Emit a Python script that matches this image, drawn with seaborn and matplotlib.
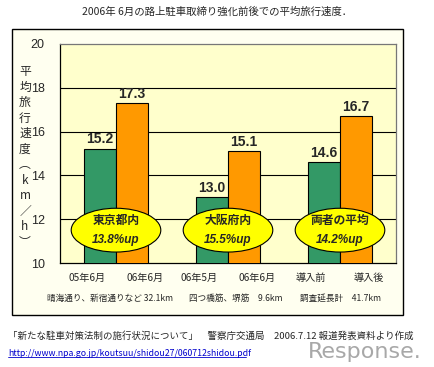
import pandas as pd
import matplotlib
matplotlib.use('Agg')
import matplotlib.pyplot as plt
from matplotlib.patches import Ellipse, Rectangle
import seaborn as sns

# data
regions = ['東京都内', '大阪府内', '両者の平均']
before = [15.2, 13.0, 14.6]
after = [17.3, 15.1, 16.7]
increase = ['13.8%up', '15.5%up', '14.2%up']
before_labels = ['05年6月', '06年5月', '導入前']
after_labels = ['06年6月', '06年6月', '導入後']
routes = ['晴海通り、新宿通りなど 32.1km', '四つ橋筋、堺筋　9.6km', '調査延長計　41.7km']

df = pd.DataFrame({
    'region': regions * 2,
    'period': ['前'] * 3 + ['後'] * 3,
    'speed': before + after,
})

sns.set_style('white')
plt.rcParams['font.family'] = ['Noto Sans CJK JP', 'DejaVu Sans']

W, H = 434, 367
fig = plt.figure(figsize=(W / 100, H / 100), dpi=100)
fig.patch.set_facecolor('white')

# outer frame
frame = Rectangle((12 / W, 1 - 315 / H), 391 / W, 286 / H,
                  transform=fig.transFigure, facecolor='#FFFFF0',
                  edgecolor='black', linewidth=1.0, zorder=-5)
fig.add_artist(frame)

ax = fig.add_axes([60 / W, 1 - 263 / H, 336 / W, 219 / H])
ax.set_zorder(2)
ax.set_facecolor('#FFFFCC')

sns.barplot(data=df, x='region', y='speed', hue='period',
            palette=['#339966', '#FF9900'], width=0.57, saturation=1,
            edgecolor='black', linewidth=0.8, ax=ax, legend=False, zorder=3)

ax.set_ylim(10, 20)
ax.set_xlim(-0.5, 2.5)
ax.set_yticks([10, 12, 14, 16, 18, 20])
ax.set_yticklabels(['10', '12', '14', '16', '18', '20'], fontsize=9,
                   family='Liberation Sans')
for y in [12, 14, 16, 18]:
    ax.axhline(y, color='black', linewidth=0.8, zorder=1)
ax.tick_params(axis='y', direction='out', length=3, width=0.8, pad=8)
ax.set_xticks([0.5, 1.5])
ax.set_xticklabels([])
ax.tick_params(axis='x', direction='in', length=3, width=0.8)
ax.set_xlabel('')
ax.set_ylabel('')
for s in ['left', 'bottom']:
    ax.spines[s].set_color('black')
    ax.spines[s].set_linewidth(0.9)
for s in ['top', 'right']:
    ax.spines[s].set_color('#777777')
    ax.spines[s].set_linewidth(0.9)

# value labels
for cont in ax.containers:
    for bar in cont:
        h = bar.get_height()
        ax.text(bar.get_x() + bar.get_width() / 2, h + 0.12, f'{h:.1f}',
                ha='center', va='bottom', fontsize=10, fontweight='bold',
                family='Liberation Sans', zorder=5)

# ellipses
for i, (name, inc) in enumerate(zip(regions, increase)):
    ax.add_patch(Ellipse((i, 11.5), 0.8, 2.0, facecolor='#FFFF00',
                         edgecolor='black', linewidth=0.8, zorder=4))
    ax.text(i, 11.95, name, ha='center', va='center', fontsize=8.5,
            fontweight='bold', zorder=5)
    ax.text(i, 11.05, inc, ha='center', va='center', fontsize=8.5,
            fontweight='bold', style='italic', zorder=5,
            family=['Liberation Sans', 'DejaVu Sans'])

# category labels below axis
route_shift = [-0.05, 0.07, 0.0]
for i in range(3):
    ax.text(i - 0.26, 9.3, before_labels[i], ha='center', va='center',
            fontsize=7.3)
    ax.text(i + 0.26, 9.3, after_labels[i], ha='center', va='center',
            fontsize=7.3)
    ax.text(i + route_shift[i], 8.4, routes[i], ha='center', va='center',
            fontsize=6.2)

# vertical y label
fig.text(25 / W, 1 - 157 / H, '平\n均\n旅\n行\n速\n度\n︵\nk\nm\n／\nh\n︶',
         ha='center', va='center', fontsize=8.5, linespacing=1.25)

fig.text(217 / W, 1 - 12 / H, '2006年 6月の路上駐車取締り強化前後での平均旅行速度．',
         ha='center', va='center', fontsize=7.5)
fig.text(8 / W, 1 - 336 / H,
         '「新たな駐車対策法制の施行状況について」　警察庁交通局　2006.7.12 報道発表資料より作成',
         ha='left', va='center', fontsize=6.8)
fig.text(8 / W, 1 - 353 / H,
         'http://www.npa.go.jp/koutsuu/shidou27/060712shidou.pdf',
         ha='left', va='center', fontsize=6.3, color='#0000CC')
fig.add_artist(plt.Line2D([8 / W, 246 / W], [1 - 357 / H, 1 - 357 / H],
                          color='#0000CC', linewidth=0.6))
fig.text(422 / W, 1 - 352 / H, 'Response.', ha='right', va='center',
         fontsize=16, color='#A8A8A8', family='DejaVu Sans', zorder=-1)

fig.savefig('out.png', dpi=100)
